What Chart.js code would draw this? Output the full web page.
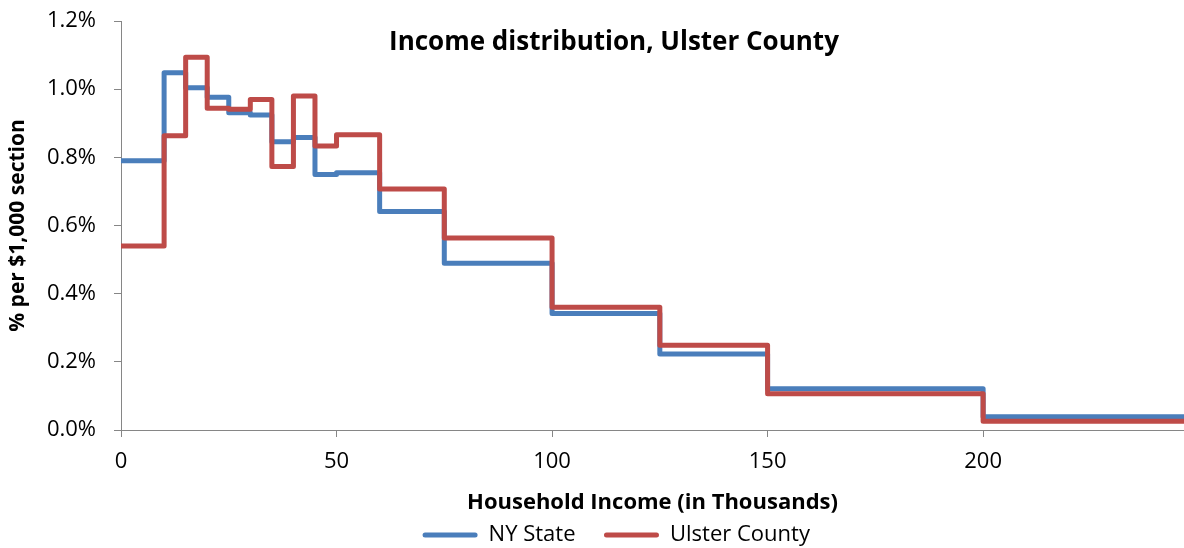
<!DOCTYPE html>
<html>
<head>
<meta charset="utf-8">
<script src="https://cdn.jsdelivr.net/npm/chart.js@4/dist/chart.umd.min.js"></script>
<style>
  html, body { margin: 0; padding: 0; background: #fff; overflow: hidden; }
  #wrap { width: 1184px; height: 548px; }
</style>
</head>
<body>
<div id="wrap"><canvas id="incomeChart" width="1184" height="548"></canvas></div>
<script>
// ==================== DATA ====================
// bracket edges in $ thousands (last edge closes the open 200+ bracket)
const incomeEdges = [0, 10, 15, 20, 25, 30, 35, 40, 45, 50, 60, 75, 100, 125, 150, 200, 250];
// % of households per $1,000 of each bracket
const nyState = [0.790, 1.048, 1.004, 0.976, 0.931, 0.924, 0.846, 0.858, 0.750, 0.755, 0.641, 0.489, 0.342, 0.223, 0.121, 0.039];
const ulsterCounty = [0.540, 0.863, 1.094, 0.944, 0.941, 0.970, 0.773, 0.980, 0.833, 0.866, 0.707, 0.563, 0.360, 0.249, 0.106, 0.026];
const xTicks = [0, 50, 100, 150, 200];
const yTicks = [0, 0.2, 0.4, 0.6, 0.8, 1.0, 1.2];

const chartTitle = 'Income distribution, Ulster County';
const xTitle = 'Household Income (in Thousands)';
const yTitle = '% per $1,000 section';

// step series: each edge carries the value of the bracket that starts there
function toSteps(values) {
    return incomeEdges.map((x, i) => ({ x: x, y: values[Math.min(i, values.length - 1)] }));
}

const axisGray = '#868686';
const font = '"Open Sans"';
const padLeft = 34;

// ==================== PLUGINS ====================
const whiteBg = {
    id: 'whiteBg',
    beforeDraw(chart) {
        const ctx = chart.ctx;
        ctx.save();
        ctx.fillStyle = '#fff';
        ctx.fillRect(0, 0, chart.width, chart.height);
        ctx.restore();
    }
};

const innerTitle = {
    id: 'innerTitle',
    afterDraw(chart) {
        const ctx = chart.ctx;
        ctx.save();
        ctx.font = 'bold 26px ' + font;
        ctx.fillStyle = '#000';
        ctx.textAlign = 'center';
        ctx.textBaseline = 'alphabetic';
        ctx.fillText(chartTitle, 614, 50);
        ctx.restore();
    }
};

// ==================== CHART ====================
new Chart(document.getElementById('incomeChart'), {
    type: 'line',
    data: {
        datasets: [{
            label: 'NY State',
            data: toSteps(nyState),
            borderColor: '#4A7EBB',
            backgroundColor: '#4A7EBB',
            borderWidth: 5,
            stepped: true,
            pointRadius: 0,
            borderJoinStyle: 'round',
            order: 1
        }, {
            label: 'Ulster County',
            data: toSteps(ulsterCounty),
            borderColor: '#BE4B48',
            backgroundColor: '#BE4B48',
            borderWidth: 5,
            stepped: true,
            pointRadius: 0,
            borderJoinStyle: 'round',
            order: 0
        }]
    },
    options: {
        responsive: false,
        animation: false,
        devicePixelRatio: 1,
        // negative right padding only shifts the legend centre
        layout: { padding: { top: 21, left: padLeft, right: -14.5, bottom: 0 } },
        plugins: {
            tooltip: { enabled: false },
            legend: {
                position: 'bottom',
                maxHeight: 52.5,
                labels: {
                    boxWidth: 55,
                    boxHeight: 5,
                    padding: 28.5,
                    color: '#000',
                    font: { size: 22, family: font },
                    sort: (a, b) => a.datasetIndex - b.datasetIndex,
                    generateLabels(chart) {
                        const items = Chart.defaults.plugins.legend.labels.generateLabels(chart);
                        items.forEach(it => { it.fillStyle = it.strokeStyle; it.lineWidth = 0; it.borderRadius = 2.5; });
                        return items;
                    }
                }
            }
        },
        scales: {
            x: {
                type: 'linear',
                min: 0,
                max: 246.6,
                afterBuildTicks(scale) {
                    scale.ticks = xTicks.map(v => ({ value: v }));
                },
                afterFit(scale) { scale.height = 495.5 - 430; },
                grid: { drawOnChartArea: false, drawTicks: true, tickLength: 7, color: axisGray },
                border: { display: true, color: axisGray, width: 1 },
                ticks: { color: '#000', padding: 12, maxRotation: 0, font: { size: 22, family: font } },
                title: {
                    display: true,
                    text: xTitle,
                    color: '#000',
                    font: { size: 22, weight: 'bold', family: font },
                    padding: { top: 0, bottom: -20.7 }
                }
            },
            y: {
                min: 0,
                max: 1.2,
                afterBuildTicks(scale) {
                    scale.ticks = yTicks.map(v => ({ value: v }));
                },
                afterFit(scale) {
                    scale.width = 121 - padLeft;
                    scale.paddingTop = 0;
                    scale.paddingBottom = 0;
                },
                grid: { drawOnChartArea: false, drawTicks: true, tickLength: 7, color: axisGray },
                border: { display: true, color: axisGray, width: 1 },
                ticks: {
                    color: '#000',
                    padding: 18,
                    font: { size: 22, family: font },
                    callback: v => v.toFixed(1) + '%'
                },
                title: {
                    display: true,
                    text: yTitle,
                    color: '#000',
                    font: { size: 21, weight: 'bold', family: font },
                    padding: { top: 18 - padLeft - 12.6, bottom: 0 }
                }
            }
        }
    },
    plugins: [whiteBg, innerTitle]
});
</script>
</body>
</html>
